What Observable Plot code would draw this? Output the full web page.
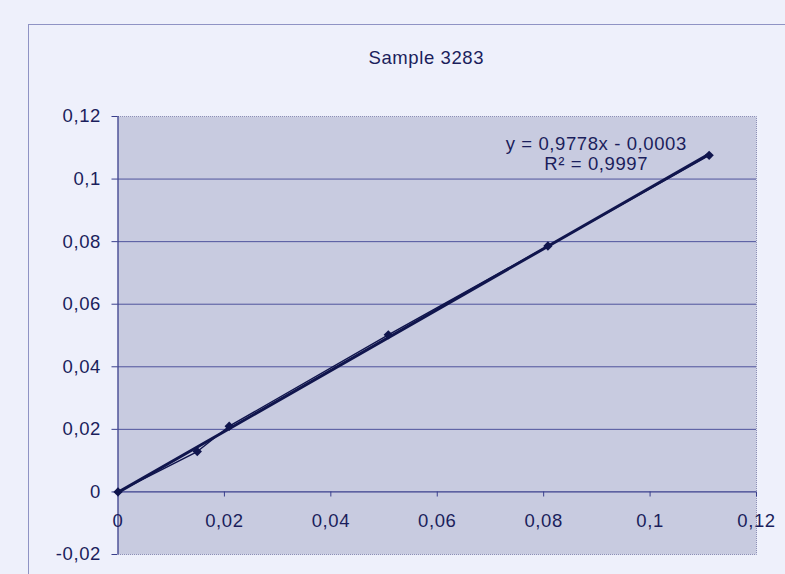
<!DOCTYPE html>
<html>
<head>
<meta charset="utf-8">
<script src="https://cdn.jsdelivr.net/npm/d3@7"></script>
<script src="https://cdn.jsdelivr.net/npm/@observablehq/plot@0.6"></script>
<style>
  html, body { margin: 0; padding: 0; background: #eef0fb; }
  #wrap { position: relative; width: 785px; height: 574px; overflow: hidden; }
  #outer { position: absolute; left: 28px; top: 24px; width: 800px; height: 600px;
           border-top: 1px solid #8f93c4; border-left: 1px solid #8f93c4; pointer-events: none; }
  svg { position: absolute; left: 0; top: 0; }
</style>
</head>
<body>
<div id="wrap"><div id="outer"></div></div>
<script>
// ---- data ----
const xVals = [0, 0.0149, 0.0209, 0.0508, 0.0808, 0.1111];
const yVals = [0, 0.0129, 0.0210, 0.0502, 0.0786, 0.1076];
const xTicks = [0, 0.02, 0.04, 0.06, 0.08, 0.1, 0.12];
const xTickLabels = ["0", "0,02", "0,04", "0,06", "0,08", "0,1", "0,12"];
const yTicks = [-0.02, 0, 0.02, 0.04, 0.06, 0.08, 0.1, 0.12];
const yTickLabels = ["-0,02", "0", "0,02", "0,04", "0,06", "0,08", "0,1", "0,12"];
const gridValues = [0.02, 0.04, 0.06, 0.08, 0.1];
const titleText = ["Sample 3283"];
const equationLine = ["y = 0,9778x - 0,0003"];
const r2Line = ["R\u00B2 = 0,9997"];

const points = xVals.map((x, i) => ({x, y: yVals[i]}));
const ink = "#1b1e5c";
const lineInk = "#10154d";

function patternDefs() {
  const defs = d3.create("svg:defs");
  const p = defs.append("pattern").attr("id", "dots")
    .attr("width", 2).attr("height", 2).attr("patternUnits", "userSpaceOnUse");
  p.append("rect").attr("width", 2).attr("height", 2).attr("fill", "#dfe1f1");
  p.append("rect").attr("width", 1).attr("height", 1).attr("fill", "#b1b4cf");
  p.append("rect").attr("x", 1).attr("y", 1).attr("width", 1).attr("height", 1).attr("fill", "#b1b4cf");
  return defs.node();
}

const chart = Plot.plot({
  width: 785,
  height: 574,
  marginLeft: 117.5,
  marginRight: 29,
  marginTop: 116,
  marginBottom: 20,
  style: {background: "transparent", fontFamily: "'Liberation Sans', Arial, sans-serif", fontSize: "18.5px", color: ink, letterSpacing: "0.6px"},
  x: {domain: [0, 0.12]},
  y: {domain: [-0.02, 0.12]},
  marks: [
    patternDefs,
    Plot.frame({fill: "url(#dots)", stroke: null}),
    Plot.frame({stroke: "#8c8fb6", strokeDasharray: "1,1"}),
    Plot.ruleY(gridValues, {stroke: "#4e539c", strokeWidth: 1}),
    Plot.ruleY([0], {stroke: "#3a3f8c", strokeWidth: 1.2}),
    Plot.ruleX([0], {stroke: "#3a3f8c", strokeWidth: 1.2}),
    Plot.axisY({
      ticks: yTicks,
      tickFormat: d => yTickLabels[yTicks.indexOf(d)],
      tickSize: 6, tickPadding: 11, fontSize: 18.5, label: null, stroke: "#3a3f8c"
    }),
    Plot.axisX({
      anchor: "bottom",
      ticks: xTicks,
      tickFormat: d => xTickLabels[xTicks.indexOf(d)],
      tickSize: 5, tickPadding: 17, fontSize: 18.5, label: null, stroke: "#3a3f8c",
      dy: -62.5
    }),
    Plot.line(points, {x: "x", y: "y", stroke: lineInk, strokeWidth: 1.4}),
    Plot.linearRegressionY(points, {x: "x", y: "y", ci: 0, stroke: lineInk, strokeWidth: 3}),
    Plot.dot(points, {x: "x", y: "y", symbol: "diamond2", r: 4.2, fill: lineInk, stroke: null}),
    Plot.text(titleText, {frameAnchor: "top", dx: -11, dy: -58, lineAnchor: "middle", fontSize: 18.5, fill: ink}),
    Plot.text(equationLine, {frameAnchor: "top", dx: 159, dy: 28, lineAnchor: "middle", fontSize: 18.5, fill: ink}),
    Plot.text(r2Line, {frameAnchor: "top", dx: 159, dy: 48, lineAnchor: "middle", fontSize: 18.5, fill: ink})
  ]
});
document.getElementById("wrap").appendChild(chart);
</script>
</body>
</html>
